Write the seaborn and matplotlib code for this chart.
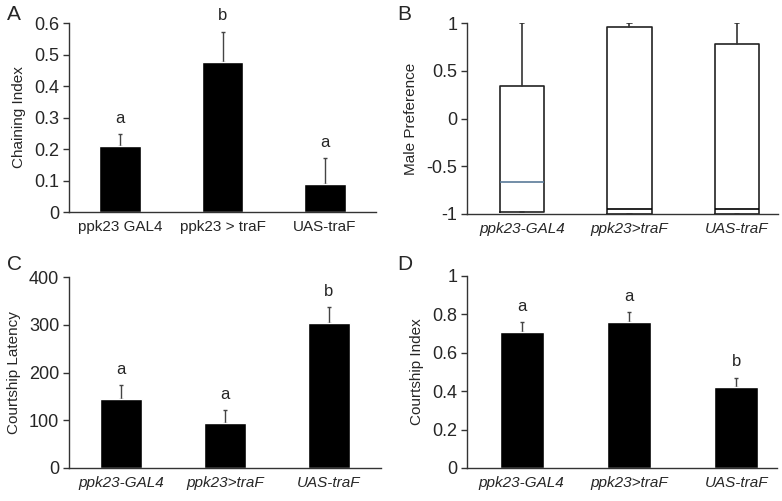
import numpy as np
import pandas as pd
import matplotlib
matplotlib.use("Agg")
import matplotlib.pyplot as plt
import seaborn as sns

# ---- data ----
groups_a = ["ppk23 GAL4", "ppk23 > traF", "UAS-traF"]
groups = ["ppk23-GAL4", "ppk23>traF", "UAS-traF"]

chaining_mean = [0.211, 0.476, 0.090]
chaining_err = [0.037, 0.096, 0.081]
chaining_sig = ["a", "b", "a"]

# male preference box stats
pref_q1 = [-0.98, -1.0, -1.0]
pref_med = [-0.664, -0.944, -0.944]
pref_q3 = [0.339, 0.958, 0.78]
pref_whishi = [1.0, 1.0, 1.0]
pref_whislo = [-0.98, -1.0, -1.0]

latency_mean = [145, 94.6, 303]
latency_err = [28, 26.4, 34]
latency_sig = ["a", "a", "b"]

cindex_mean = [0.71, 0.76, 0.423]
cindex_err = [0.05, 0.05, 0.048]
cindex_sig = ["a", "a", "b"]

sns.set_theme(style="white")
plt.rcParams["font.family"] = ["Liberation Sans", "DejaVu Sans"]

W, H = 782, 501
fig = plt.figure(figsize=(W / 100, H / 100), dpi=100)


def make_ax(left, right, top, bottom):
    return fig.add_axes([left / W, 1 - bottom / H, (right - left) / W, (bottom - top) / H])


def style_ax(ax, ylabel):
    sns.despine(ax=ax)
    for s in ["left", "bottom"]:
        ax.spines[s].set_color("#333333")
        ax.spines[s].set_linewidth(1.0)
    ax.tick_params(axis="y", direction="out", length=4, width=1, color="#333333",
                   labelsize=13, left=True, pad=3)
    ax.tick_params(axis="x", length=0, labelsize=11, pad=6)
    ax.set_ylabel(ylabel, fontsize=11, labelpad=6)
    ax.set_xlabel("")


def bar_panel(ax, labels, means, errs, sig, ylim, yticks, ylabel, italic, xlim):
    df = pd.DataFrame({"group": labels, "value": means})
    sns.barplot(data=df, x="group", y="value", color="black", width=0.41,
                errorbar=None, ax=ax, saturation=1, zorder=2)
    x = np.arange(len(labels))
    ax.errorbar(x, means, yerr=[np.zeros(len(errs)), errs], fmt="none",
                ecolor="#444444", elinewidth=1, capsize=1.5, capthick=1, zorder=1)
    for xi, m, e, s in zip(x, means, errs, sig):
        ax.annotate(s, (xi, m + e), xytext=(0, 6), textcoords="offset points",
                    ha="center", va="bottom", fontsize=12)
    ax.set_ylim(*ylim)
    ax.set_yticks(yticks)
    ax.set_yticklabels([("%g" % t) for t in yticks])
    ax.set_xlim(*xlim)
    style_ax(ax, ylabel)
    if italic:
        for t in ax.get_xticklabels():
            t.set_fontstyle("italic")


# A
axA = make_ax(69, 376, 23, 212)
bar_panel(axA, groups_a, chaining_mean, chaining_err, chaining_sig,
          (0, 0.6), [0, 0.1, 0.2, 0.3, 0.4, 0.5, 0.6], "Chaining Index", False, (-0.5, 2.5))

# B
axB = make_ax(467, 778, 23, 214)
stats = []
for g, lo, q1, med, q3, hi in zip(groups, pref_whislo, pref_q1, pref_med, pref_q3, pref_whishi):
    stats.append(dict(label=g, whislo=lo, q1=q1, med=med, q3=q3, whishi=hi, fliers=[]))
parts = axB.bxp(stats, positions=[0, 1, 2], widths=0.41, showfliers=False,
                boxprops=dict(color="#222222", linewidth=1.2),
                whiskerprops=dict(color="#333333", linewidth=1.2),
                capprops=dict(color="#333333", linewidth=1.2),
                medianprops=dict(color="black", linewidth=1.2), capwidths=0.04)
parts["medians"][0].set_color("#5a7a98")  # first median line is bluish
axB.set_ylim(-1, 1)
axB.set_yticks([-1, -0.5, 0, 0.5, 1])
axB.set_yticklabels(["-1", "-0.5", "0", "0.5", "1"])
axB.set_xlim(-0.51, 2.38)
style_ax(axB, "Male Preference")
axB.set_xticks([0, 1, 2])
axB.set_xticklabels(groups, fontstyle="italic")

# C
axC = make_ax(69, 381, 277, 468)
bar_panel(axC, groups, latency_mean, latency_err, latency_sig,
          (0, 400), [0, 100, 200, 300, 400], "Courtship Latency", True, (-0.5, 2.5))

# D
axD = make_ax(467, 777, 276, 468)
bar_panel(axD, groups, cindex_mean, cindex_err, cindex_sig,
          (0, 1), [0, 0.2, 0.4, 0.6, 0.8, 1], "Courtship Index", True, (-0.51, 2.38))

for letter, px, py in [("A", 7, 15), ("B", 397, 15), ("C", 7, 265), ("D", 397, 265)]:
    fig.text(px / W, 1 - py / H, letter, fontsize=15, ha="left", va="center")

fig.savefig("out.png", dpi=100)
